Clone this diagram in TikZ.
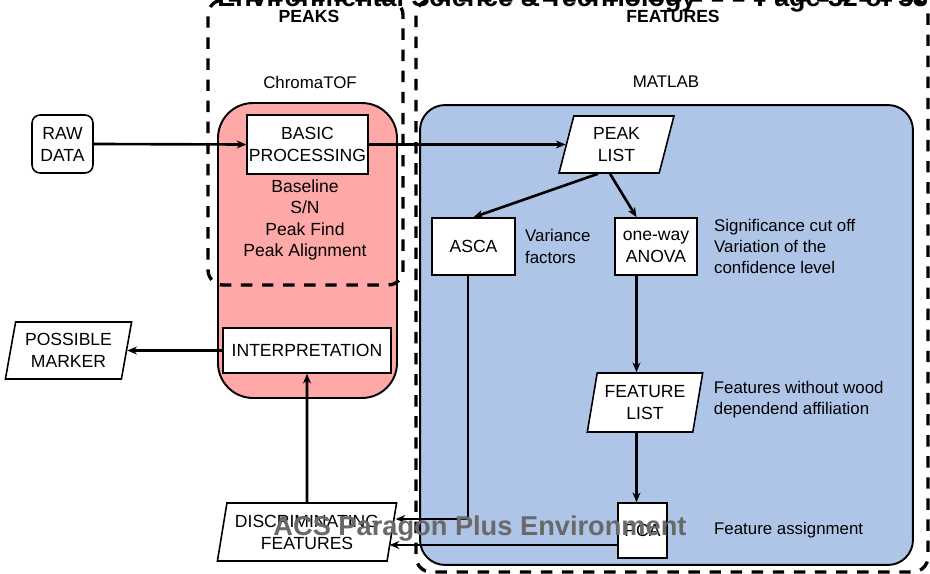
\documentclass[tikz,border=0pt]{standalone}
\usepackage{fontspec}
\setmainfont{Liberation Sans}
\usepackage{xcolor}
\usetikzlibrary{shapes.geometric, arrows.meta, positioning}
\definecolor{chromapink}{RGB}{255,168,168}
\definecolor{matlabblue}{RGB}{175,197,231}
\definecolor{markgray}{RGB}{105,105,105}
\tikzstyle{region} = [rectangle, draw=black, line width=1.1pt, inner sep=0pt]
\tikzstyle{group} = [rectangle, draw=black, line width=1.9pt, dash pattern=on 6.5pt off 5.5pt, rounded corners=0.3cm, inner sep=0pt]
\tikzstyle{process} = [rectangle, draw=black, line width=0.9pt, fill=white, align=center, inner sep=1pt, font=\fontsize{10}{12.5}\selectfont]
\tikzstyle{io} = [trapezium, trapezium left angle=77, trapezium right angle=103, trapezium stretches=true, draw=black, line width=0.9pt, fill=white, align=center, inner sep=1pt, font=\fontsize{10}{12.5}\selectfont]
\tikzstyle{note} = [align=left, inner sep=0pt, font=\fontsize{9.6}{12}\selectfont]
\tikzstyle{title} = [inner sep=0pt, font=\bfseries\fontsize{10}{12}\selectfont]
\tikzstyle{arrow} = [line width=1.5pt, -{Stealth[length=5.5pt,width=4.5pt]}]

\begin{document}
\begin{tikzpicture}[x=0.02cm, y=-0.02cm]
    \useasboundingbox (0,0) rectangle (930,574);
    \clip (0,0) rectangle (930,574);

    % coloured tool areas
    \node (chroma) [region, fill=chromapink, rounded corners=0.7cm, minimum width=3.58cm, minimum height=5.9cm] at (307.5,250.5) {};
    \node (matlab) [region, fill=matlabblue, rounded corners=0.5cm, minimum width=9.86cm, minimum height=9.2cm] at (666.5,335) {};

    % dashed groups
    \node (peaks) [group, minimum width=3.9cm, minimum height=5.7cm] at (305.5,142.5) {};
    \node (features) [group, minimum width=10.24cm, minimum height=11.44cm] at (672,286) {};

    \node (peakstitle) [title] at (309,16) {PEAKS};
    \node (featurestitle) [title] at (673,16) {FEATURES};
    \node (chromatitle) [note] at (310,82) {ChromaTOF};
    \node (matlabtitle) [note] at (666,82) {MATLAB};

    \node (raw) [process, rounded corners=0.16cm, minimum width=1.22cm, minimum height=1.16cm] at (62.5,144) {RAW\\DATA};
    \node (basic) [process, minimum width=2.38cm, minimum height=1.18cm] at (307.5,144.5) {BASIC\\PROCESSING};
    \node (steps) [note, align=center, font=\fontsize{10}{12.1}\selectfont] at (305,220) {Baseline\\S/N\\Peak Find\\Peak Alignment};

    \node (peaklist) [io, minimum width=2.3cm, minimum height=1.14cm] at (616.5,144.5) {PEAK\\LIST};
    \node (asca) [process, minimum width=1.66cm, minimum height=1.14cm] at (473.5,246.5) {ASCA};
    \node (varnote) [note, right=0.18cm of asca] {Variance\\factors};
    \node (anova) [process, minimum width=1.64cm, minimum height=1.14cm] at (656,246.5) {one-way\\ANOVA};
    \node (signote) [note, right=0.32cm of anova] {Significance cut off\\Variation of the\\confidence level};

    \node (featlist) [io, minimum width=2.32cm, minimum height=1.18cm] at (645,402.5) {FEATURE\\LIST};
    \node (featnote) [note, right=0.3cm of featlist, yshift=0.06cm] {Features without wood\\dependend affiliation};
    \node (pca) [process, minimum width=0.98cm, minimum height=1.1cm] at (642.5,530.5) {PCA};
    \node (assignnote) [note, right=0.92cm of pca] {Feature assignment};

    \node (disc) [io, minimum width=3.6cm, minimum height=1.16cm] at (307,532) {DISCRIMINATING\\FEATURES};
    \node (interp) [process, minimum width=3.36cm, minimum height=0.9cm] at (307,350.5) {INTERPRETATION};
    \node (marker) [io, minimum width=2.54cm, minimum height=1.14cm] at (68.5,350.5) {POSSIBLE\\MARKER};

    \coordinate (av) at ([xshift=-0.39cm]anova.south);
    \coordinate (discin) at ([shift={(0.06cm,0.26cm)}]disc.east);
    \coordinate (discpca) at ([shift={(-0.06cm,-0.26cm)}]disc.east);

    \draw [arrow] (raw.east) -- (basic.west);
    \draw [arrow] (basic.east) -- (peaklist);
    \draw [arrow] ([xshift=-0.37cm]peaklist.south) -- (asca.north);
    \draw [arrow] ([xshift=-0.13cm]peaklist.south) -- (av |- anova.north);
    \draw [arrow] (av) -- (av |- featlist.north);
    \draw [arrow] (av |- featlist.south) -- (av |- pca.north);
    \draw [arrow] ([xshift=-0.11cm]asca.south) |- (discin);
    \draw [arrow] (pca.west |- discpca) -- (discpca);
    \draw [arrow] (disc.north) -- (interp.south);
    \draw [arrow] (interp.west) -- (marker.east);

    % page header and watermark
    \node (header) [anchor=base west, inner sep=0pt, font=\bfseries\fontsize{15.3}{18}\selectfont] at (217,7) {Environmental Science \& Technology};
    \node (pagehead) [anchor=base west, inner sep=0pt, font=\bfseries\fontsize{15.3}{18}\selectfont] at (756,7) {Page 32 of 33};
    \node (watermark) [anchor=base, inner sep=0pt, text=markgray, font=\bfseries\fontsize{15.5}{18}\selectfont] at (480,535) {ACS Paragon Plus Environment};
\end{tikzpicture}
\end{document}
